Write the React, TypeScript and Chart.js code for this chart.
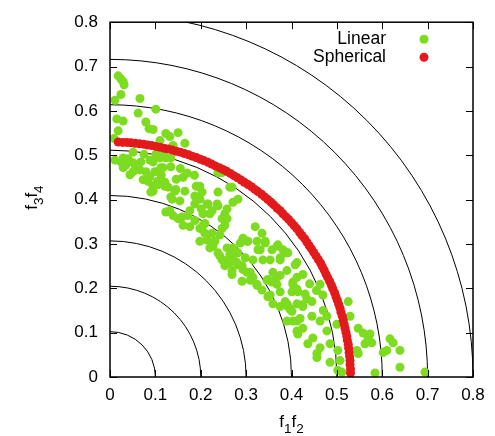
import React, { useEffect, useRef } from 'react';
import { Chart, registerables } from 'chart.js';
Chart.register(...registerables);

const tickValues = [0, 0.1, 0.2, 0.3, 0.4, 0.5, 0.6, 0.7, 0.8];
const tickLabels = ['0', '0.1', '0.2', '0.3', '0.4', '0.5', '0.6', '0.7', '0.8'];
const circleRadii = [0.1, 0.2, 0.3, 0.4, 0.5, 0.6, 0.7, 0.8];
const seriesNames = ['Linear', 'Spherical'];
const seriesColors = ['#7ddc1f', '#e31a1c'];

const linearPoints: [number, number][] = [
  [0.018, 0.679], [0.024, 0.672], [0.029, 0.666], [0.031, 0.659], [0.024, 0.637], [0.011, 0.624],
  [0.066, 0.628], [0.101, 0.604], [0.062, 0.595], [0.015, 0.582], [0.029, 0.577], [0.079, 0.575],
  [0.086, 0.560], [0.095, 0.558], [0.018, 0.555], [0.009, 0.538], [0.123, 0.549], [0.132, 0.542],
  [0.150, 0.551], [0.110, 0.533], [0.165, 0.527], [0.139, 0.522], [0.101, 0.502], [0.051, 0.507],
  [0.075, 0.502], [0.029, 0.494], [0.117, 0.500], [0.134, 0.494],
  [0.011, 0.489], [0.024, 0.485], [0.035, 0.478], [0.051, 0.483], [0.068, 0.485], [0.088, 0.489],
  [0.110, 0.494], [0.123, 0.494], [0.029, 0.472], [0.051, 0.463], [0.066, 0.467], [0.079, 0.463],
  [0.112, 0.472], [0.134, 0.474], [0.161, 0.450], [0.073, 0.445], [0.084, 0.441], [0.095, 0.430],
  [0.106, 0.434], [0.121, 0.430], [0.090, 0.417], [0.145, 0.423], [0.190, 0.430], [0.134, 0.406],
  [0.154, 0.397], [0.198, 0.401], [0.187, 0.390], [0.123, 0.372], [0.139, 0.364], [0.150, 0.357],
  [0.176, 0.375], [0.201, 0.379], [0.161, 0.342], [0.176, 0.339], [0.187, 0.353], [0.209, 0.346],
  [0.198, 0.306], [0.209, 0.324],
  [0.040, 0.492], [0.057, 0.474], [0.044, 0.456], [0.088, 0.452], [0.113, 0.455], [0.146, 0.446],
  [0.155, 0.470], [0.170, 0.460], [0.186, 0.455],
  [0.095, 0.485], [0.117, 0.472], [0.099, 0.463], [0.121, 0.439], [0.104, 0.441], [0.095, 0.419],
  [0.128, 0.428], [0.143, 0.419], [0.137, 0.401], [0.165, 0.419], [0.194, 0.430], [0.203, 0.417],
  [0.187, 0.408], [0.216, 0.390], [0.238, 0.417], [0.242, 0.461], [0.269, 0.428], [0.238, 0.386],
  [0.225, 0.375], [0.205, 0.368], [0.253, 0.368], [0.258, 0.357], [0.132, 0.375], [0.159, 0.361],
  [0.172, 0.364], [0.198, 0.335], [0.225, 0.324], [0.247, 0.335], [0.225, 0.302], [0.238, 0.280],
  [0.258, 0.291], [0.264, 0.275], [0.247, 0.264], [0.253, 0.251], [0.269, 0.240], [0.280, 0.258],
  [0.287, 0.302], [0.293, 0.313], [0.304, 0.306], [0.282, 0.280], [0.298, 0.269], [0.291, 0.251],
  [0.302, 0.236], [0.309, 0.218], [0.324, 0.207], [0.348, 0.181], [0.359, 0.165], [0.342, 0.302],
  [0.326, 0.287], [0.315, 0.264], [0.337, 0.264], [0.348, 0.220], [0.364, 0.218], [0.368, 0.295],
  [0.392, 0.280], [0.375, 0.264], [0.412, 0.258], [0.390, 0.240], [0.412, 0.225], [0.403, 0.209],
  [0.401, 0.192], [0.414, 0.192], [0.390, 0.165], [0.412, 0.165], [0.425, 0.159], [0.375, 0.159],
  [0.397, 0.152], [0.282, 0.401], [0.247, 0.461],
  [0.238, 0.461], [0.198, 0.430], [0.264, 0.428], [0.271, 0.394], [0.214, 0.390], [0.236, 0.390],
  [0.258, 0.379], [0.220, 0.368], [0.247, 0.357], [0.205, 0.342], [0.253, 0.342], [0.242, 0.320],
  [0.231, 0.306], [0.214, 0.309], [0.320, 0.339], [0.335, 0.324], [0.302, 0.306], [0.324, 0.306],
  [0.342, 0.306], [0.370, 0.298], [0.381, 0.287], [0.357, 0.287], [0.271, 0.291], [0.220, 0.291],
  [0.227, 0.295], [0.242, 0.273], [0.253, 0.262], [0.264, 0.258], [0.271, 0.269], [0.282, 0.253],
  [0.269, 0.231], [0.293, 0.242], [0.309, 0.236], [0.291, 0.216], [0.315, 0.225], [0.324, 0.209],
  [0.335, 0.196], [0.331, 0.287], [0.353, 0.264], [0.375, 0.269], [0.390, 0.280], [0.359, 0.236],
  [0.375, 0.229], [0.346, 0.218], [0.357, 0.214], [0.368, 0.209], [0.353, 0.185], [0.375, 0.192],
  [0.386, 0.170], [0.392, 0.159], [0.401, 0.148], [0.390, 0.126], [0.412, 0.104], [0.412, 0.126],
  [0.386, 0.280], [0.408, 0.253], [0.425, 0.231], [0.403, 0.214], [0.412, 0.198], [0.430, 0.187],
  [0.434, 0.176], [0.386, 0.163], [0.397, 0.154], [0.423, 0.163], [0.445, 0.170], [0.463, 0.209],
  [0.469, 0.185], [0.419, 0.132], [0.403, 0.126], [0.445, 0.137], [0.425, 0.110], [0.463, 0.126],
  [0.478, 0.137], [0.447, 0.088], [0.436, 0.075], [0.456, 0.044], [0.485, 0.075], [0.478, 0.104],
  [0.500, 0.119], [0.502, 0.060], [0.507, 0.037], [0.525, 0.170], [0.511, 0.011],
  [0.414, 0.097], [0.463, 0.066], [0.485, 0.033], [0.502, 0.015], [0.456, 0.053], [0.470, 0.150],
  [0.455, 0.195], [0.440, 0.210],
  [0.529, 0.137], [0.547, 0.110], [0.558, 0.099], [0.573, 0.097], [0.569, 0.086], [0.577, 0.077],
  [0.562, 0.075], [0.544, 0.060], [0.547, 0.053], [0.602, 0.055], [0.610, 0.060], [0.617, 0.086],
  [0.624, 0.077], [0.639, 0.060], [0.639, 0.022], [0.584, 0.009], [0.694, 0.011],
];

const sphericalPoints: [number, number][] = [
  [0.018, 0.530], [0.028, 0.529], [0.037, 0.529], [0.046, 0.528], [0.055, 0.527], [0.065, 0.526],
  [0.074, 0.525], [0.083, 0.523], [0.092, 0.522], [0.101, 0.520], [0.110, 0.518], [0.119, 0.516],
  [0.128, 0.514], [0.137, 0.512], [0.146, 0.509], [0.155, 0.507], [0.164, 0.504], [0.173, 0.501],
  [0.181, 0.498], [0.190, 0.495], [0.199, 0.491], [0.207, 0.488], [0.216, 0.484], [0.224, 0.480],
  [0.232, 0.476], [0.241, 0.472], [0.249, 0.468], [0.257, 0.464], [0.265, 0.459], [0.273, 0.454],
  [0.281, 0.449], [0.289, 0.444], [0.296, 0.439], [0.304, 0.434], [0.312, 0.429], [0.319, 0.423],
  [0.326, 0.418], [0.334, 0.412], [0.341, 0.406], [0.348, 0.400], [0.355, 0.394], [0.361, 0.388],
  [0.368, 0.381], [0.375, 0.375], [0.381, 0.368], [0.388, 0.361], [0.394, 0.355], [0.400, 0.348],
  [0.406, 0.341], [0.412, 0.334], [0.418, 0.326], [0.423, 0.319], [0.429, 0.312], [0.434, 0.304],
  [0.439, 0.296], [0.444, 0.289], [0.449, 0.281], [0.454, 0.273], [0.459, 0.265], [0.464, 0.257],
  [0.468, 0.249], [0.472, 0.241], [0.476, 0.232], [0.480, 0.224], [0.484, 0.216], [0.488, 0.207],
  [0.491, 0.199], [0.495, 0.190], [0.498, 0.181], [0.501, 0.173], [0.504, 0.164], [0.507, 0.155],
  [0.509, 0.146], [0.512, 0.137], [0.514, 0.128], [0.516, 0.119], [0.518, 0.110], [0.520, 0.101],
  [0.522, 0.092], [0.523, 0.083], [0.525, 0.074], [0.526, 0.065], [0.527, 0.055], [0.528, 0.046],
  [0.529, 0.037], [0.529, 0.028], [0.530, 0.018], [0.530, 0.009],
];

const FONT = '"Liberation Sans", Arial, Helvetica, sans-serif';

const decorPlugin = {
  id: 'decor',
  beforeDatasetsDraw(chart: any) {
    const { ctx, chartArea: a, scales } = chart;
    const xs = scales.x, ys = scales.y;
    ctx.save();
    ctx.beginPath();
    ctx.rect(a.left, a.top, a.right - a.left, a.bottom - a.top);
    ctx.clip();
    ctx.strokeStyle = '#000';
    ctx.lineWidth = 1;
    const cx = xs.getPixelForValue(0), cy = ys.getPixelForValue(0);
    for (const r of circleRadii) {
      const rad = xs.getPixelForValue(r) - cx;
      ctx.beginPath();
      ctx.arc(cx, cy, rad, -Math.PI / 2, 0);
      ctx.stroke();
    }
    ctx.restore();
  },
  afterDatasetsDraw(chart: any) {
    const { ctx, chartArea: a, scales } = chart;
    const xs = scales.x, ys = scales.y;
    ctx.save();
    ctx.strokeStyle = '#000';
    ctx.lineWidth = 1;
    const tl = 7;
    for (const v of tickValues) {
      const px = Math.round(xs.getPixelForValue(v)) + 0.5;
      const py = Math.round(ys.getPixelForValue(v)) + 0.5;
      ctx.beginPath();
      ctx.moveTo(px, a.bottom); ctx.lineTo(px, a.bottom - tl);
      ctx.moveTo(px, a.top); ctx.lineTo(px, a.top + tl);
      ctx.moveTo(a.left, py); ctx.lineTo(a.left + tl, py);
      ctx.moveTo(a.right, py); ctx.lineTo(a.right - tl, py);
      ctx.stroke();
    }
    ctx.lineWidth = 1.5;
    ctx.strokeRect(a.left, a.top, a.right - a.left, a.bottom - a.top);

    // legend
    ctx.font = `17.5px ${FONT}`;
    ctx.textAlign = 'right';
    ctx.textBaseline = 'middle';
    seriesNames.forEach((name, i) => {
      const y = a.top + 17 + i * 18;
      ctx.fillStyle = '#000';
      ctx.fillText(name, a.right - 87, y);
      ctx.fillStyle = seriesColors[i];
      ctx.beginPath();
      ctx.arc(a.right - 49, y, 4.5, 0, Math.PI * 2);
      ctx.fill();
    });

    // axis titles with subscripts
    const drawSub = (parts: [string, boolean][], x: number, y: number) => {
      ctx.textAlign = 'left';
      ctx.textBaseline = 'alphabetic';
      ctx.fillStyle = '#000';
      let w = 0;
      for (const [t, sub] of parts) {
        ctx.font = sub ? `13.5px ${FONT}` : `17px ${FONT}`;
        w += ctx.measureText(t).width;
      }
      let cx = x - w / 2;
      for (const [t, sub] of parts) {
        ctx.font = sub ? `13.5px ${FONT}` : `17px ${FONT}`;
        ctx.fillText(t, cx, sub ? y + 6 : y);
        cx += ctx.measureText(t).width;
      }
    };
    const midX = (a.left + a.right) / 2;
    drawSub([['f', false], ['1', true], ['f', false], ['2', true]], midX, 427);
    ctx.save();
    ctx.translate(37, (a.top + a.bottom) / 2 - 2);
    ctx.rotate(-Math.PI / 2);
    drawSub([['f', false], ['3', true], ['f', false], ['4', true]], 0, 0);
    ctx.restore();
    ctx.restore();
  },
};

export default function App() {
  const ref = useRef<HTMLCanvasElement>(null);
  useEffect(() => {
    if (!ref.current) return;
    const toXY = (p: [number, number]) => ({ x: p[0], y: p[1] });
    const axis = (pos: string) => ({
      type: 'linear' as const,
      position: pos,
      min: 0,
      max: 0.8,
      grid: { display: false, drawTicks: false },
      border: { display: false },
      afterBuildTicks: (s: any) => { s.ticks = tickValues.map((v) => ({ value: v })); },
      ticks: {
        padding: pos === 'left' ? 12 : 8,
        color: '#000',
        font: { family: FONT, size: 17 },
        callback: (_v: any, i: number) => tickLabels[i],
      },
      afterFit: (s: any) => {
        if (pos === 'left') s.width = 110; else s.height = 59;
      },
    });
    const chart = new Chart(ref.current, {
      type: 'scatter',
      data: {
        datasets: [
          {
            label: seriesNames[0],
            data: linearPoints.map(toXY),
            backgroundColor: seriesColors[0],
            borderWidth: 0,
            pointRadius: 4.5,
            order: 2,
          },
          {
            label: seriesNames[1],
            data: sphericalPoints.map(toXY),
            backgroundColor: seriesColors[1],
            borderWidth: 0,
            pointRadius: 4.5,
            order: 1,
          },
        ],
      },
      options: {
        animation: false,
        responsive: false,
        events: [],
        layout: { padding: { top: 14, right: 22, left: 0, bottom: 0 } },
        plugins: { legend: { display: false }, tooltip: { enabled: false } },
        scales: { x: axis('bottom') as any, y: axis('left') as any },
      },
      plugins: [decorPlugin],
    });
    return () => chart.destroy();
  }, []);
  return (
    <div style={{ position: 'fixed', left: 0, top: 0, width: 495, height: 436, background: '#fff' }}>
      <canvas ref={ref} width={495} height={436} style={{ width: 495, height: 436 }} />
    </div>
  );
}
